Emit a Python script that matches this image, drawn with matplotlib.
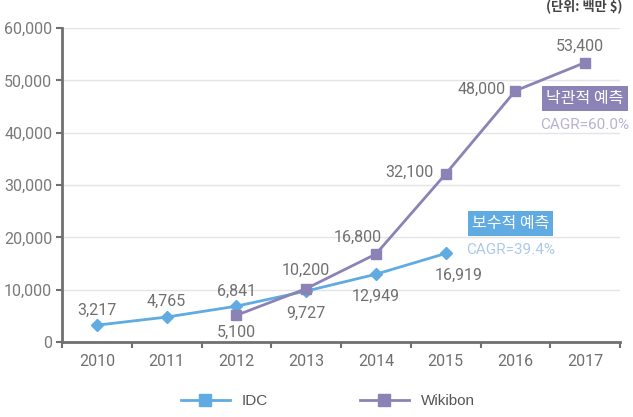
import matplotlib
matplotlib.use("Agg")
import matplotlib.pyplot as plt
from matplotlib.lines import Line2D

years = ["2010", "2011", "2012", "2013", "2014", "2015", "2016", "2017"]
idc_years = [0, 1, 2, 3, 4, 5]
idc_values = [3217, 4765, 6841, 9727, 12949, 16919]
wiki_years = [2, 3, 4, 5, 6, 7]
wiki_values = [5100, 10200, 16800, 32100, 48000, 53400]

# label offsets (points) for each data label
idc_offsets = [(0, 11), (0, 11), (0, 11), (0, -16), (0, -16), (9, -16)]
wiki_offsets = [(0, -12), (0, 13), (-13, 12), (-26, 1), (-24, 1), (-4, 12)]

idc_color = "#5fabe2"
wiki_color = "#8b82b6"
grey = "#707070"
num_font = ["Roboto", "DejaVu Sans"]
kr = ["Noto Sans CJK KR", "DejaVu Sans"]

fig = plt.figure(figsize=(6.33, 4.17), dpi=100)
ax = fig.add_axes([62 / 633, 1 - 342 / 417, (620 - 62) / 633, (342 - 28) / 417])

ax.plot(idc_years, idc_values, color=idc_color, lw=2, marker="D", ms=6.5, zorder=3)
ax.plot(wiki_years, wiki_values, color=wiki_color, lw=2, marker="s", ms=7, zorder=3)

for x, v, off in zip(idc_years, idc_values, idc_offsets):
    ax.annotate(f"{v:,}", (x, v), xytext=off, textcoords="offset points",
                ha="center", va="center", fontsize=11.5, color=grey, family=num_font)
for x, v, off in zip(wiki_years, wiki_values, wiki_offsets):
    ax.annotate(f"{v:,}", (x, v), xytext=off, textcoords="offset points",
                ha="center", va="center", fontsize=11.5, color=grey, family=num_font)

ax.set_xlim(-0.5, 7.5)
ax.set_ylim(0, 60000)
ax.set_yticks(range(0, 60001, 10000))
ax.set_yticklabels([f"{v:,}" for v in range(0, 60001, 10000)], family=num_font,
                   fontsize=11.5, color="#7a7a7a")
ax.set_xticks(range(len(years)))
ax.set_xticklabels(years, family=num_font, fontsize=11.5, color=grey)
ax.set_xticks([i + 0.5 for i in range(-1, 8)], minor=True)
ax.tick_params(axis="x", which="major", length=0, pad=9)
ax.tick_params(axis="x", which="minor", length=4, width=1.5, color=grey)
ax.tick_params(axis="y", length=4, width=1.5, color=grey, pad=3)
ax.grid(axis="y", color="#e4e4e4", lw=1)
ax.set_axisbelow(True)
for s in ["top", "right"]:
    ax.spines[s].set_visible(False)
for s in ["left", "bottom"]:
    ax.spines[s].set_color(grey)
    ax.spines[s].set_linewidth(2)

# forecast annotations
ax.text(7.0, 46600, "낙관적 예측", ha="center", va="center", fontsize=11.5, color="white",
        family=kr, bbox=dict(boxstyle="square,pad=0.25", fc=wiki_color, ec="none"))
ax.text(7.0, 41500, "CAGR=60.0%", ha="center", va="center", fontsize=11,
        color="#b7b2d2", family=num_font)
ax.text(5.93, 22600, "보수적 예측", ha="center", va="center", fontsize=11.5, color="white",
        family=kr, bbox=dict(boxstyle="square,pad=0.25", fc=idc_color, ec="none"))
ax.text(5.93, 17600, "CAGR=39.4%", ha="center", va="center", fontsize=11,
        color="#aac9ec", family=num_font)

fig.text(622 / 633, 1 - 7 / 417, "(단위: 백만 $)", ha="right", va="center",
         fontsize=9.5, color="#444444", family=kr, fontweight="bold")

handles = [Line2D([], [], color=idc_color, lw=2, marker="s", ms=8),
           Line2D([], [], color=wiki_color, lw=2, marker="s", ms=8)]
fig.legend(handles, ["IDC", "Wikibon"], loc="center", bbox_to_anchor=(328 / 633, 1 - 401 / 417),
           ncol=2, frameon=False, handlelength=3.2, columnspacing=6,
           prop={"family": ["Liberation Sans", "DejaVu Sans"], "size": 11},
           labelcolor="#555555")

fig.savefig("out.png", dpi=100)
